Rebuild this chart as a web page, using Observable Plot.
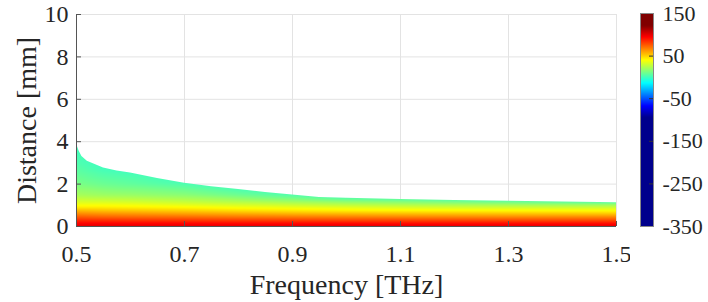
<!DOCTYPE html>
<html><head><meta charset="utf-8">
<script src="https://cdn.jsdelivr.net/npm/d3@7"></script>
<script src="https://cdn.jsdelivr.net/npm/@observablehq/plot@0.6"></script>
<style>
body{margin:0;background:#fff;}
#wrap{position:relative;width:708px;height:302px;}
#main{position:absolute;left:0;top:0;}
#cbar{position:absolute;left:630px;top:0;}
#wrap svg, #wrap svg text, #wrap svg g{font-family:"Liberation Serif","Times New Roman",serif !important;font-variant:normal !important;font-variant-numeric:normal !important;}
</style></head><body><div id="wrap"><div id="main"></div><div id="cbar"></div></div>
<script>
// ---- tick labels ----
const frequencyTicks = [0.5, 0.7, 0.9, 1.1, 1.3, 1.5];
const distanceTicks = [0, 2, 4, 6, 8, 10];
const colorTicks = [150, 50, -50, -150, -250, -350];

// ---- colormap (jet-like, navy below) ----
const colorDomain = [-350, -94, -67, -13, 41, 95, 122, 150];
const colorRange = ["#00008c", "#00008c", "#0000ff", "#00ffff", "#ffff00", "#ff0000", "#800000", "#800000"];

// ---- upper edge of the filled region ----
const boundaryFrequency = [0.5, 0.502, 0.505, 0.51, 0.52, 0.53, 0.55, 0.575, 0.6, 0.65, 0.7, 0.75, 0.8, 0.85, 0.9, 0.95, 1.0, 1.1, 1.2, 1.3, 1.4, 1.5];
const boundaryDistance  = [4.15, 3.75, 3.55, 3.3, 3.08, 2.97, 2.76, 2.62, 2.52, 2.27, 2.04, 1.88, 1.74, 1.6, 1.48, 1.37, 1.33, 1.27, 1.23, 1.19, 1.15, 1.12];

// ---- value profiles along distance at several frequencies ----
const profileFrequency = [0.5, 0.55, 0.6, 0.7, 0.8, 0.9, 1.0, 1.1, 1.3, 1.5];
const profileTopDistance = [4.15, 2.76, 2.52, 2.04, 1.74, 1.48, 1.33, 1.27, 1.19, 1.12];
const profileTopValue = [1, 1, 2, 3, 4, 5, 6, 8, 8, 8];
const profileDistance = [0, 0.15, 0.3, 0.45, 0.6, 0.75, 0.9, 1.05, 1.2, 1.5, 2.0, 2.5, 3.0, 3.5, 4.0];
const profile050 = [101, 95, 86, 76, 66, 56, 45, 38, 32, 22, 13, 8, 4, 2, 1];
const profile055 = [101, 95, 85, 74, 64, 54, 45, 38, 31, 20, 10, 4, null, null, null];
const profile060 = [101, 94, 84, 73, 63, 53, 44, 37, 30, 19, 8, null, null, null, null];
const profile070 = [101, 94, 83, 72, 61, 51, 42, 34, 27, 16, null, null, null, null, null];
const profile080 = [101, 93, 82, 70, 59, 48, 39, 31, 23, 10, null, null, null, null, null];
const profile090 = [101, 93, 81, 69, 57, 46, 37, 28, 19, null, null, null, null, null, null];
const profile100 = [101, 93, 80, 68, 56, 44, 35, 25, 15, null, null, null, null, null, null];
const profile110 = [101, 92, 80, 67, 55, 43, 33, 23, 13, null, null, null, null, null, null];
const profile130 = [101, 92, 79, 66, 54, 42, 31, 20, null, null, null, null, null, null, null];
const profile150 = [101, 92, 79, 66, 53, 41, 30, 18, null, null, null, null, null, null, null];
const profiles = [profile050, profile055, profile060, profile070, profile080, profile090, profile100, profile110, profile130, profile150];

const samples = [];
profileFrequency.forEach((f, i) => {
  profiles[i].forEach((v, j) => {
    if (v != null) samples.push({frequency: f, distance: profileDistance[j], value: v});
  });
  samples.push({frequency: f, distance: profileTopDistance[i], value: profileTopValue[i]});
});
const edge = boundaryFrequency.map((f, i) => ({frequency: f, distance: boundaryDistance[i]}));

const font = "Liberation Serif, Times New Roman, serif";
const color = {type: "linear", domain: colorDomain, range: colorRange, clamp: true};
const plain = d => String(d);

const main = Plot.plot({
  width: 630, height: 302,
  marginLeft: 76, marginRight: 14, marginTop: 14, marginBottom: 76,
  style: {fontFamily: font, background: "white", color: "#262626"},
  x: {domain: [0.5, 1.5]},
  y: {domain: [0, 10]},
  color,
  marks: [
    Plot.gridX(frequencyTicks, {stroke: "#e3e3e3", strokeOpacity: 1}),
    Plot.gridY(distanceTicks, {stroke: "#e3e3e3", strokeOpacity: 1}),
    Plot.raster(samples, {x: "frequency", y: "distance", fill: "value", interpolate: "barycentric", x1: 0.5, x2: 1.5, y1: 0, y2: 10, pixelSize: 1}),
    Plot.areaY(edge, {x: "frequency", y1: 0, y2: "distance", fill: "none", stroke: "none"}),
    Plot.ruleX([0.5], {stroke: "#555"}),
    Plot.ruleY([0], {stroke: "#555"}),
    Plot.ruleY(distanceTicks, {stroke: "#555", insetRight: 535}),
    Plot.ruleX(frequencyTicks, {stroke: "#555", insetTop: 207}),
    Plot.axisX({ticks: frequencyTicks, tickSize: 0, tickPadding: 18, fontSize: 24, fontFamily: font, fontVariant: "normal", label: null, tickFormat: d => d.toFixed(1)}),
    Plot.axisY({ticks: distanceTicks, tickSize: 0, tickPadding: 8, fontSize: 24, fontFamily: font, fontVariant: "normal", label: null, tickFormat: plain}),
    Plot.text(["Frequency [THz]"], {frameAnchor: "bottom", lineAnchor: "middle", textAnchor: "middle", dy: 59, fontSize: 28, fontFamily: font, fill: "#262626"}),
    Plot.text(["Distance [mm]"], {frameAnchor: "left", textAnchor: "middle", lineAnchor: "middle", dx: -49, rotate: -90, fontSize: 28, fontFamily: font, fill: "#262626"})
  ]
});

// clip the raster to the area under the edge
(function clip() {
  const ns = "http://www.w3.org/2000/svg";
  const areaG = main.querySelector('g[aria-label="area"]');
  const areaPath = areaG && areaG.querySelector("path");
  const rasterG = main.querySelector('g[aria-label="raster"]');
  if (!areaPath || !rasterG) return;
  const defs = document.createElementNS(ns, "defs");
  const cp = document.createElementNS(ns, "clipPath");
  cp.setAttribute("id", "edge-clip");
  const p = document.createElementNS(ns, "path");
  p.setAttribute("d", areaPath.getAttribute("d"));
  const t = [areaG.getAttribute("transform"), areaPath.getAttribute("transform")].filter(Boolean).join(" ");
  if (t) p.setAttribute("transform", t);
  cp.appendChild(p); defs.appendChild(cp);
  main.insertBefore(defs, main.firstChild);
  const wrap = document.createElementNS(ns, "g");
  rasterG.parentNode.insertBefore(wrap, rasterG);
  wrap.appendChild(rasterG);
  wrap.setAttribute("clip-path", "url(#edge-clip)");
})();
document.getElementById("main").appendChild(main);

const cbar = Plot.plot({
  width: 78, height: 302,
  marginLeft: 10, marginRight: 55, marginTop: 13, marginBottom: 76,
  style: {fontFamily: font, background: "white", color: "#262626"},
  x: {domain: [0, 1], axis: null},
  y: {domain: [-350, 150]},
  color,
  marks: [
    Plot.raster({fill: (x, y) => y, x1: 0, x2: 1, y1: -350, y2: 150, pixelSize: 1}),
    Plot.ruleY(colorTicks, {stroke: "#333", insetLeft: 9}),
    Plot.frame({stroke: "#888"}),
    Plot.axisY({anchor: "right", ticks: colorTicks, tickSize: 0, tickPadding: 9, fontSize: 22, fontFamily: font, fontVariant: "normal", label: null, tickFormat: plain})
  ]
});
document.getElementById("cbar").appendChild(cbar);
</script></body></html>
